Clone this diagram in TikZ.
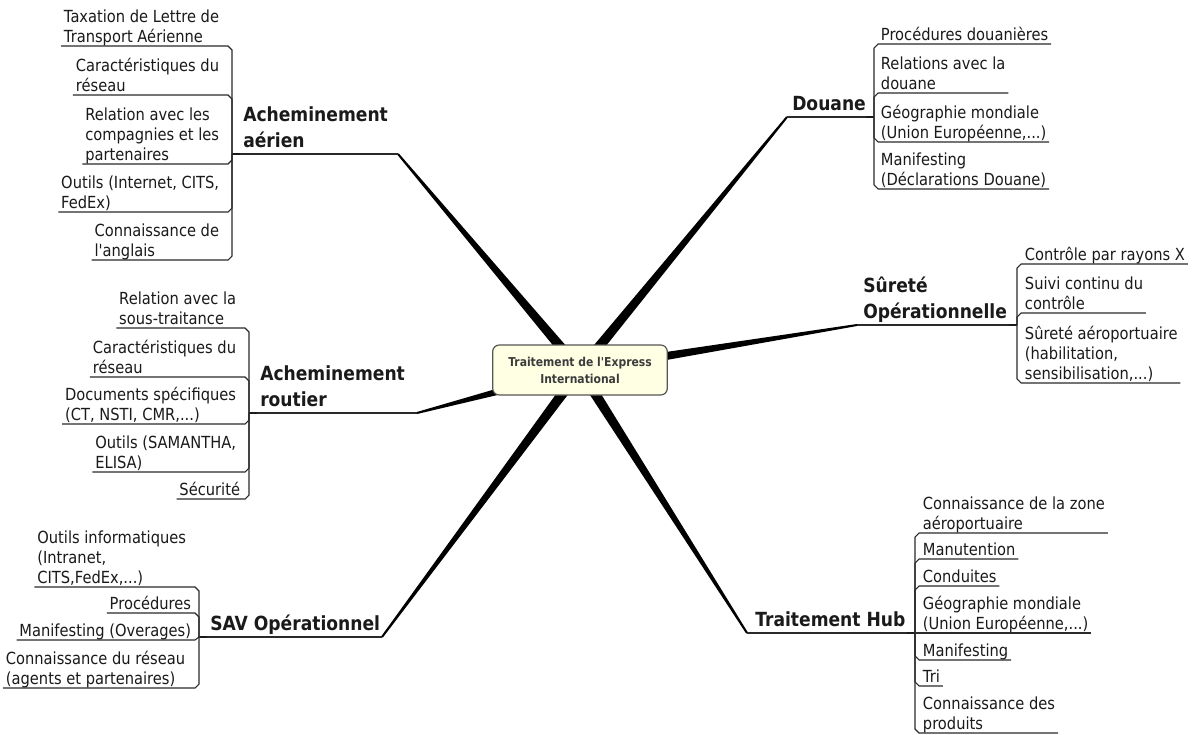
\documentclass[tikz,border=0pt]{standalone}
\usepackage{fontspec}
\setmainfont{DejaVu Sans}[FakeStretch=0.88]
\newfontfamily\plainfont{DejaVu Sans}[FakeStretch=0.88]
\usetikzlibrary{calc}
\definecolor{ink}{HTML}{1A1A1A}
\definecolor{lineink}{HTML}{2A2A2A}
\definecolor{boxfill}{HTML}{FFFFE4}
\definecolor{boxline}{HTML}{555555}
\newcommand\apos{{\plainfont\char"0027}}
\tikzset{
  kidtext/.style={font=\fontsize{12.5pt}{15pt}\selectfont, text=ink, align=left,
    inner xsep=2pt, inner ysep=2.5pt, text depth=0pt},
  maintext/.style={font=\bfseries\fontsize{14.6pt}{19.5pt}\selectfont, text=ink, align=left,
    inner xsep=0pt, inner ysep=4.5pt, text depth=0pt, anchor=south west},
  kidL/.style={kidtext, anchor=south east},
  kidR/.style={kidtext, anchor=south west},
  kidline/.style={draw=lineink, line width=0.8pt},
  topline/.style={draw=lineink, line width=1.1pt},
  stubline/.style={draw=ink, line width=1.8pt},
  branch/.style={fill=black},
  centerbox/.style={draw=boxline, fill=boxfill, line width=0.9pt, rounded corners=5pt,
    minimum width=131pt, minimum height=37.5pt, align=center,
    font=\bfseries\fontsize{9.2pt}{12.75pt}\selectfont, text=ink!85}
}
\newcommand\kidLeft[3]{\draw[kidline] (#1) -- ($(#1 |- #2.south)+(0,#3)$) -- ($(#1 |- #2.south)+(-4,0)$) -- (#2.south west);}
\newcommand\kidRight[3]{\draw[kidline] (#1) -- ($(#1 |- #2.south)+(0,#3)$) -- ($(#1 |- #2.south)+(4,0)$) -- (#2.south east);}
\newcommand\taper[2]{\fill[branch] ($(#1)!4pt!90:(#2)$) -- ($(#1)!4pt!-90:(#2)$) -- ($(#2)!0.75pt!90:(#1)$) -- ($(#2)!0.75pt!-90:(#1)$) -- cycle;}
\begin{document}
\begin{tikzpicture}[x=0.75pt,y=-0.75pt]
\useasboundingbox (0,0) rectangle (1192,735);
\fill[white] (0,0) rectangle (1192,735);

% centre and topic ends
\coordinate (ctr) at (580,370);
\coordinate (eA) at (398,154);
\coordinate (eB) at (417,413);
\coordinate (eC) at (382,637);
\coordinate (eD) at (787,117);
\coordinate (eE) at (857,325);
\coordinate (eF) at (747,633);
\coordinate (jA) at (232,154);
\coordinate (jB) at (249,413);
\coordinate (jC) at (199,637);
\coordinate (jD) at (874,117);
\coordinate (jE) at (1017,325);
\coordinate (jF) at (915,633);

% tapered main branches
\taper{ctr}{eA}
\taper{ctr}{eB}
\taper{ctr}{eC}
\taper{ctr}{eD}
\taper{ctr}{eE}
\taper{ctr}{eF}

\node[centerbox] (root) at (ctr) {Traitement de l\apos Express\\International};

% ---------- Acheminement aérien ----------
\node[maintext] (mA) at (243,154) {Acheminement\\aérien};
\draw[topline] (jA) -- (eA);
\draw[stubline] (jA) -- ++(8,0);
\node[kidL] (a1) at (222,46) {Taxation de Lettre de\\Transport Aérienne};
\node[kidL] (a2) at (222,95) {Caractéristiques du\\réseau};
\node[kidL] (a3) at (222,164) {Relation avec les\\compagnies et les\\partenaires};
\node[kidL] (a4) at (222,212) {Outils (Internet, CITS,\\FedEx)};
\node[kidL] (a5) at (222,260) {Connaissance de\\l\apos anglais};
\kidLeft{jA}{a1}{4}
\kidLeft{jA}{a2}{4}
\kidLeft{jA}{a3}{-4}
\kidLeft{jA}{a4}{-4}
\kidLeft{jA}{a5}{-4}

% ---------- Acheminement routier ----------
\node[maintext] (mB) at (260,413) {Acheminement\\routier};
\draw[topline] (jB) -- (eB);
\draw[stubline] (jB) -- ++(8,0);
\node[kidL] (b1) at (239,328) {Relation avec la\\sous-traitance};
\node[kidL] (b2) at (239,377) {Caractéristiques du\\réseau};
\node[kidL] (b3) at (239,424) {Documents spécifiques\\(CT, NSTI, CMR,...)};
\node[kidL] (b4) at (239,472) {Outils (SAMANTHA,\\ELISA)};
\node[kidL] (b5) at (243,499) {Sécurité};
\kidLeft{jB}{b1}{4}
\kidLeft{jB}{b2}{4}
\kidLeft{jB}{b3}{-4}
\kidLeft{jB}{b4}{-4}
\kidLeft{jB}{b5}{-4}

% ---------- SAV Opérationnel ----------
\node[maintext] (mC) at (210,637) {SAV Opérationnel};
\draw[topline] (jC) -- (eC);
\draw[stubline] (jC) -- ++(8,0);
\node[kidL] (c1) at (189,587) {Outils informatiques\\(Intranet,\\CITS,FedEx,...)};
\node[kidL] (c2) at (194,613) {Procédures};
\node[kidL] (c3) at (194,640) {Manifesting (Overages)};
\node[kidL] (c4) at (188,688) {Connaissance du réseau\\(agents et partenaires)};
\kidLeft{jC}{c1}{4}
\kidLeft{jC}{c2}{4}
\kidLeft{jC}{c3}{-3}
\kidLeft{jC}{c4}{-4}

% ---------- Douane ----------
\node[maintext] (mD) at (792,117) {Douane};
\draw[topline] (eD) -- (jD);
\draw[stubline] (jD) -- ++(-8,0);
\node[kidR] (d1) at (878,44) {Procédures douanières};
\node[kidR] (d2) at (878,93) {Relations avec la\\douane};
\node[kidR] (d3) at (878,142) {Géographie mondiale\\(Union Européenne,...)};
\node[kidR] (d4) at (878,189) {Manifesting\\(Déclarations Douane)};
\kidRight{jD}{d1}{4}
\kidRight{jD}{d2}{4}
\kidRight{jD}{d3}{-4}
\kidRight{jD}{d4}{-4}

% ---------- Sûreté Opérationnelle ----------
\node[maintext] (mE) at (863,325) {Sûreté\\Opérationnelle};
\draw[topline] (eE) -- (jE);
\draw[stubline] (jE) -- ++(-8,0);
\node[kidR] (e1) at (1022,264) {Contrôle par rayons X};
\node[kidR] (e2) at (1022,313) {Suivi continu du\\contrôle};
\node[kidR] (e3) at (1022,383) {Sûreté aéroportuaire\\(habilitation,\\sensibilisation,...)};
\kidRight{jE}{e1}{4}
\kidRight{jE}{e2}{4}
\kidRight{jE}{e3}{-4}

% ---------- Traitement Hub ----------
\node[maintext] (mF) at (755,633) {Traitement Hub};
\draw[topline] (eF) -- (jF);
\draw[stubline] (jF) -- ++(-8,0);
\node[kidR] (f1) at (920,533) {Connaissance de la zone\\aéroportuaire};
\node[kidR] (f2) at (920,559) {Manutention};
\node[kidR] (f3) at (920,586) {Conduites};
\node[kidR] (f4) at (920,633) {Géographie mondiale\\(Union Européenne,...)};
\node[kidR] (f5) at (920,660) {Manifesting};
\node[kidR] (f6) at (920,686) {Tri};
\node[kidR] (f7) at (920,733) {Connaissance des\\produits};
\kidRight{jF}{f1}{4}
\kidRight{jF}{f2}{4}
\kidRight{jF}{f3}{4}
\kidRight{jF}{f4}{0}
\kidRight{jF}{f5}{-4}
\kidRight{jF}{f6}{-4}
\kidRight{jF}{f7}{-4}
\end{tikzpicture}
\end{document}
